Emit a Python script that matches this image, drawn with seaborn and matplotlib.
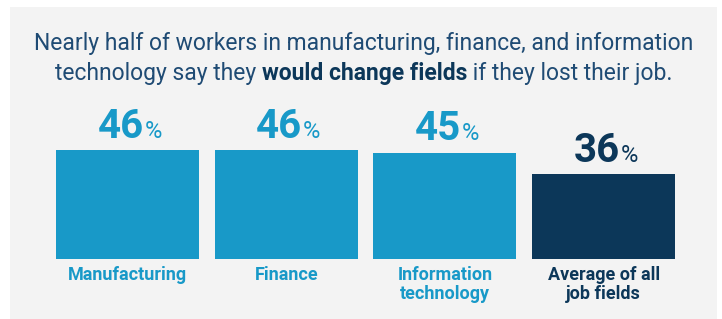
"""
plot.py
Bar chart: share of workers who would change fields if they lost their job.
Output:
  - out.png
"""

import matplotlib
matplotlib.use('Agg')
import matplotlib.pyplot as plt
from matplotlib.patches import Rectangle
import pandas as pd
import seaborn as sns

# Constants
OUT_PATH = 'out.png'
W_PX, H_PX, DPI = 722, 319, 100

LIGHT_BLUE = '#1899C8'
NAVY = '#0C3759'
TITLE_COLOR = '#1F4B74'
PANEL = '#F3F3F3'

# Data
categories = ['Manufacturing', 'Finance', 'Information\ntechnology', 'Average of all\njob fields']
shares = [46, 46, 45, 36]
bar_colors = [LIGHT_BLUE, LIGHT_BLUE, LIGHT_BLUE, NAVY]

title_line1 = 'Nearly half of workers in manufacturing, finance, and information'
title_line2 = [('technology say they ', 'normal'), ('would change fields', 'bold'), (' if they lost their job.', 'normal')]

sns.set_theme(style='white')
plt.rcParams['font.family'] = ['Roboto', 'DejaVu Sans']

df = pd.DataFrame({'category': categories, 'share': shares})

fig = plt.figure(figsize=(W_PX / DPI, H_PX / DPI), dpi=DPI, facecolor='white')

# grey panel behind everything (figure pixels)
fig.patches.append(Rectangle((10 / W_PX, 0), 707 / W_PX, 312 / H_PX,
                             transform=fig.transFigure, facecolor=PANEL,
                             edgecolor='none', zorder=-5))

# axes: baseline at y=259 px from top, ~158.7 px per category
step = 158.7
ax = fig.add_axes([(127.5 - step / 2) / W_PX, 60 / H_PX, 4 * step / W_PX, 142 / H_PX])
ax.patch.set_alpha(0)

sns.barplot(data=df, x='category', y='share', hue='category',
            palette=bar_colors, width=0.9, saturation=1,
            legend=False, ax=ax, edgecolor='none')
ax.set_xlim(-0.5, 3.5)
ax.set_ylim(0, 60)
ax.axis('off')

# value labels: bold number + small percent sign
for i, (v, c) in enumerate(zip(shares, bar_colors)):
    ax.annotate(str(v), (i, v), xytext=(16, 12), textcoords='offset pixels',
                ha='right', va='baseline', fontsize=29, fontweight='bold', color=c,
                annotation_clip=False)
    ax.annotate('%', (i, v), xytext=(17, 12), textcoords='offset pixels',
                ha='left', va='baseline', fontsize=17, color=c, annotation_clip=False)
    ax.annotate(categories[i], (i, 0), xytext=(0, -7), textcoords='offset pixels',
                ha='center', va='top', fontsize=13, fontweight='bold', color=c,
                linespacing=1.05, annotation_clip=False)

# title, line 1
fig.text(363.5 / W_PX, 1 - 50 / H_PX, title_line1, ha='center', va='baseline',
         fontsize=16.5, color=TITLE_COLOR)

# title, line 2 with bold middle part, centred as a whole
renderer = fig.canvas.get_renderer()
pieces = []
for txt, weight in title_line2:
    t = fig.text(0, 1 - 80 / H_PX, txt, ha='left', va='baseline', fontsize=16.5,
                 fontweight=weight, color=NAVY if weight == 'bold' else TITLE_COLOR)
    pieces.append(t)
widths = [p.get_window_extent(renderer).width for p in pieces]
x = 363.5 - sum(widths) / 2
for p, w in zip(pieces, widths):
    p.set_x(x / W_PX)
    x += w

fig.savefig(OUT_PATH, dpi=DPI, facecolor='white')
